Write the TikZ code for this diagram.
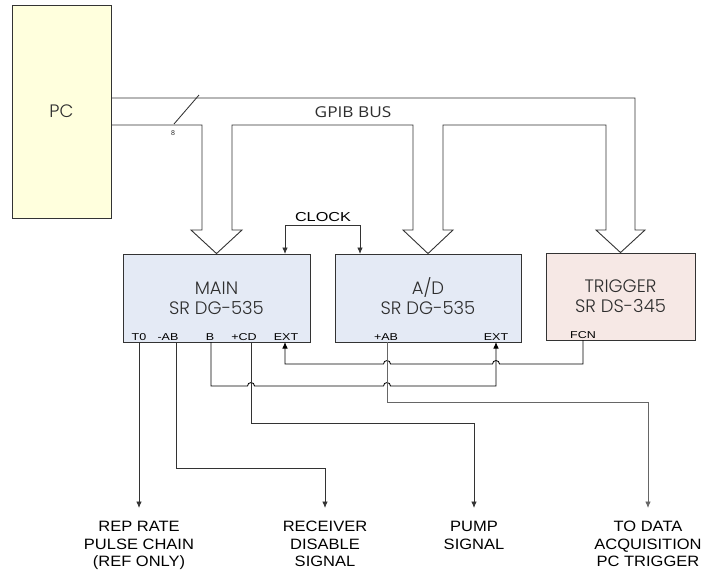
\documentclass[tikz,border=0pt]{standalone}
\usepackage{fontspec}
\setmainfont{Liberation Sans}
\newfontfamily\lblfont{Liberation Sans}[FakeStretch=1.1]
\newfontfamily\pinfont{Liberation Sans}[FakeStretch=1.25]
\newfontfamily\clkfont{Liberation Sans}[FakeStretch=1.25]
\newfontfamily\busfont{Open Sans}[FakeStretch=1.15]
\newfontfamily\boxfont{Poppins}[UprightFont=* Light]
\usetikzlibrary{arrows.meta}
\definecolor{pcfill}{HTML}{FFFFDD}
\definecolor{bluefill}{HTML}{E4EAF5}
\definecolor{pinkfill}{HTML}{F6E8E5}
\definecolor{edge}{HTML}{333333}
\definecolor{txt}{HTML}{2E2E2E}
\begin{document}
\begin{tikzpicture}[x=1pt,y=-1pt,
  boxst/.style={draw=edge,line width=0.9pt,inner sep=0pt,align=center,text=txt,
    font=\boxfont\fontsize{18}{20}\selectfont},
  bus/.style={draw=edge,line width=0.9pt,line join=miter},
  sig/.style={draw=edge,line width=0.85pt},
  arr/.style={-{Latex[length=6.5pt,width=5.5pt]}},
  pinlbl/.style={inner sep=0pt,font=\pinfont\fontsize{10}{11}\selectfont},
  outlbl/.style={inner sep=0pt,align=center,anchor=north,font=\lblfont\fontsize{15}{17.5}\selectfont}]
\useasboundingbox[fill=white] (0,0) rectangle (703,571);

% boxes
\node[boxst,fill=pcfill,minimum width=99pt,minimum height=213pt] (pc) at (61.5,111.5) {PC};
\node[boxst,fill=bluefill,minimum width=187pt,minimum height=88pt] (main) at (216.5,298) {MAIN\\SR DG-535};
\node[boxst,fill=bluefill,minimum width=186pt,minimum height=88pt] (ad) at (428,298) {\smash{A/D}\vphantom{M}\\SR DG-535};
\node[boxst,fill=pinkfill,minimum width=149pt,minimum height=87pt] (trig) at (620.5,296.5) {TRIGGER\\SR DS-345};

% pin labels
\node[pinlbl] (mT0) at (139,337) {T0};
\node[pinlbl] (mAB) at (168,337) {-AB};
\node[pinlbl] (mB) at (210,337) {B};
\node[pinlbl] (mCD) at (244,337) {+CD};
\node[pinlbl] (mEXT) at (286,337) {EXT};
\node[pinlbl] (aAB) at (386,337) {+AB};
\node[pinlbl] (aEXT) at (496,337) {EXT};
\node[pinlbl] (tFCN) at (583,335) {FCN};

\coordinate (pT0) at (139,342);
\coordinate (pAB) at (176,342);
\coordinate (pB) at (211,342);
\coordinate (pCD) at (251,342);
\coordinate (pEXT) at (285,342);
\coordinate (qAB) at (387,342);
\coordinate (qEXT) at (496,342);
\coordinate (pFCN) at (583,340);

% GPIB bus
\draw[bus] ([yshift=13.5pt]pc.east) -- (635,98) -- (635,230) -- (645,230) -- (trig.north)
  -- (596,230) -- (606,230) -- (606,125) -- (443,125) -- (443,230) -- (453,230) -- (ad.north)
  -- (403,230) -- (413,230) -- (413,125) -- (232,125) -- (232,230) -- (242,230) -- (main.north)
  -- (191,230) -- (202,230) -- (202,125) -- ([yshift=-13.5pt]pc.east);
\node[font=\busfont\fontsize{15}{17}\selectfont,text=txt] (gpib) at (353,112) {GPIB BUS};
\coordinate (sl1) at (199,95);
\coordinate (sl2) at (174,124);
\draw[sig] (sl1) -- (sl2);
\node[font=\fontsize{7}{8}\selectfont,text=txt] (eight) at (173,133) {8};

% clock
\coordinate (ck1) at (285,254);
\coordinate (ck2) at (360,254);
\draw[sig,{Latex[length=6.5pt,width=5.5pt]}-{Latex[length=6.5pt,width=5.5pt]}] (ck1) -- (285,225) -- (360,225) -- (ck2);
\node[font=\clkfont\fontsize{13}{15}\selectfont] (clock) at (323,217) {CLOCK};

% FCN -> MAIN EXT
\draw[sig,arr,draw=black] (pFCN) -- (583,364) -- (499.5,364) arc[start angle=0,end angle=180,radius=3.5pt]
  -- (390.5,364) arc[start angle=0,end angle=180,radius=3.5pt] -- (285,364) -- (pEXT);
% B -> A/D EXT
\draw[sig,arr,draw=black] (pB) -- (211,386) -- (247.5,386) arc[start angle=180,end angle=0,radius=3.5pt]
  -- (383.5,386) arc[start angle=180,end angle=0,radius=3.5pt] -- (496,386) -- (qEXT);

% outputs
\coordinate (eRep) at (139,508);
\coordinate (eRcv) at (325,508);
\coordinate (ePump) at (474,508);
\coordinate (eDaq) at (648,508);
\draw[sig,arr] (pT0) -- (eRep);
\draw[sig,arr] (pAB) -- (176,468) -| (eRcv);
\draw[sig,arr] (pCD) -- (251,423) -| (ePump);
\draw[sig,arr,draw=black!60] (qAB) -- (387,402) -| (eDaq);

\node[outlbl] (oRep) at (139,521) {REP RATE\\PULSE CHAIN\\(REF ONLY)};
\node[outlbl] (oRcv) at (325,521) {RECEIVER\\DISABLE\\SIGNAL};
\node[outlbl] (oPump) at (474,521) {PUMP\\SIGNAL};
\node[outlbl] (oDaq) at (648,521) {TO DATA\\ACQUISITION\\PC TRIGGER};
\end{tikzpicture}
\end{document}
